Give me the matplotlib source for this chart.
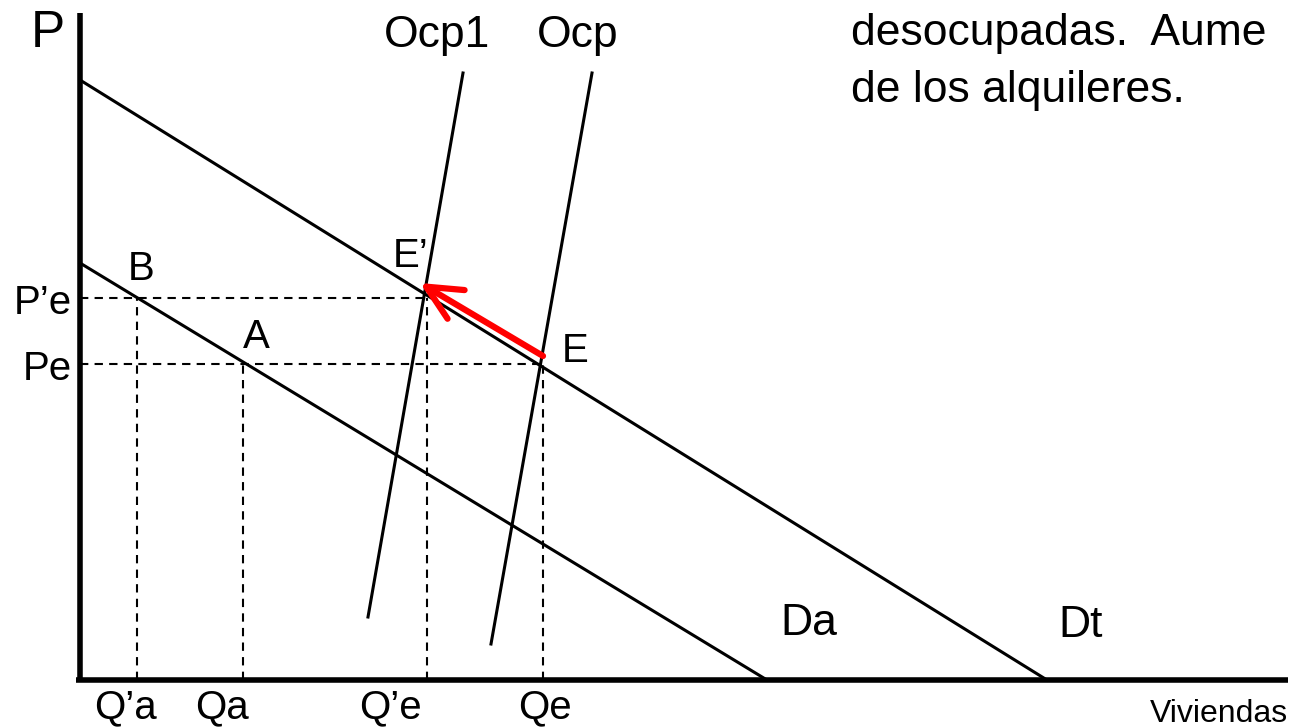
import matplotlib
matplotlib.use("Agg")
import matplotlib.pyplot as plt

plt.rcParams['font.family'] = ['Liberation Sans', 'DejaVu Sans']

# curves: (Q, P) end points, origin at the axis corner
Dt = ([0, 967], [600, 0])
Da = ([0, 687], [417, 0])
Ocp1 = ([383, 288], [607, 63])
Ocp = ([512, 411], [607, 36])

# equilibrium levels
P_levels = {"P'e": 382, "Pe": 316}
Q_levels = {"Q'a": 57, "Qa": 163, "Q'e": 347, "Qe": 463}
h_dash_end = {"P'e": 345, "Pe": 463}
q_labels_x = {"Q'a": 45, "Qa": 142, "Q'e": 310, "Qe": 465}

arrow_from = (463, 324)
arrow_to = (340, 397)

fig = plt.figure(figsize=(12.97, 7.27), dpi=100)
ax = fig.add_axes([0, 0, 1, 1])
ax.set_xlim(-80, 1217)
ax.set_ylim(-47, 680)
ax.axis('off')

# axes
ax.plot([0, 0], [0, 667], color='black', lw=4, solid_capstyle='butt')
ax.plot([-4, 1208], [0, 0], color='black', lw=4, solid_capstyle='butt')

for c in (Dt, Da, Ocp1, Ocp):
    ax.plot(c[0], c[1], color='black', lw=2.2)

dash = dict(color='black', lw=1.5, dashes=(4, 3))
for k, p in P_levels.items():
    ax.plot([0, h_dash_end[k]], [p, p], **dash)
ax.plot([Q_levels["Q'a"]] * 2, [0, P_levels["P'e"]], **dash)
ax.plot([Q_levels["Qa"]] * 2, [0, P_levels["Pe"]], **dash)
ax.plot([Q_levels["Q'e"]] * 2, [0, P_levels["P'e"]], **dash)
ax.plot([Q_levels["Qe"]] * 2, [0, P_levels["Pe"]], **dash)

ax.annotate('', xy=arrow_to, xytext=arrow_from,
            arrowprops=dict(arrowstyle='->,head_length=1.25,head_width=0.6',
                            mutation_scale=20, color='red', lw=4.5,
                            shrinkA=0, shrinkB=0))

big = 32
ax.text(-32, 633, 'P', fontsize=37, ha='center', va='baseline')
ax.text(357, 633, 'Ocp1', fontsize=big, ha='center', va='baseline')
ax.text(498, 633, 'Ocp', fontsize=big, ha='center', va='baseline')
ax.text(771, 635, 'desocupadas.  Aume', fontsize=big, ha='left', va='baseline')
ax.text(771, 578, 'de los alquileres.', fontsize=big, ha='left', va='baseline')

lab = 29
ax.text(313, 413, 'E\u2019', fontsize=lab, va='baseline')
ax.text(482, 318, 'E', fontsize=lab, va='baseline')
ax.text(48, 400, 'B', fontsize=lab, va='baseline')
ax.text(163, 332, 'A', fontsize=lab, va='baseline')
ax.text(-8, 366, 'P\u2019e', fontsize=lab, ha='right', va='baseline')
ax.text(-8, 300, 'Pe', fontsize=lab, ha='right', va='baseline')
for k, qx in q_labels_x.items():
    ax.text(qx, -38, k.replace("'", "\u2019"), fontsize=lab, ha='center', va='baseline')

ax.text(700, 45, 'Da', fontsize=big, va='baseline')
ax.text(978, 43, 'Dt', fontsize=big, va='baseline')
ax.text(1208, -42, 'Viviendas', fontsize=23, ha='right', va='baseline')

fig.savefig('out.png', dpi=100)
